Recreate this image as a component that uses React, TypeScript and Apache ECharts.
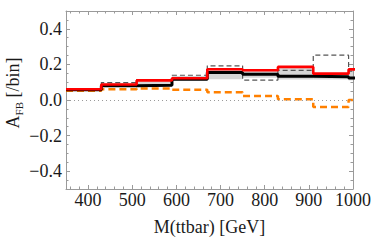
import React, { useEffect, useRef } from "react";
import * as echarts from "echarts";

// bin lower edges [GeV], bins are 80 GeV wide; last one is clipped at 1000
const binStarts = [350, 430, 510, 590, 670, 750, 830, 910, 990];
const binWidth = 80;

const redValues = [0.06, 0.087, 0.11, 0.122, 0.173, 0.167, 0.186, 0.148, 0.172];
const blackValues = [0.057, 0.08, 0.083, 0.117, 0.155, 0.144, 0.133, 0.13, 0.124];
const dashedValues = [0.06, 0.098, 0.115, 0.139, 0.192, 0.112, 0.166, 0.252, 0.162];
const orangeValues = [0.052, 0.061, 0.065, 0.057, 0.043, 0.022, 0.004, -0.04, 0.0];
const bandLow = [0.05, 0.078, 0.08, 0.11, 0.117, 0.125, 0.115, 0.115, 0.11];
const bandHigh = [0.065, 0.095, 0.11, 0.135, 0.172, 0.165, 0.18, 0.15, 0.165];

const xMajorTicks = [400, 500, 600, 700, 800, 900, 1000];
const xMinorTicks = [360, 380, 420, 440, 460, 480, 520, 540, 560, 580, 620, 640, 660, 680, 720, 740, 760, 780, 820, 840, 860, 880, 920, 940, 960, 980];
const yMajorTicks = [-0.4, -0.2, 0, 0.2, 0.4];
const yMinorTicks = [-0.45, -0.35, -0.3, -0.25, -0.15, -0.1, -0.05, 0.05, 0.1, 0.15, 0.25, 0.3, 0.35, 0.45];

const FONT = "'Liberation Serif', 'Times New Roman', serif";
const FRAME = "#9a9a9a";

function steps(vals: number[]) {
  const pts: number[][] = [];
  vals.forEach((v, i) => {
    pts.push([binStarts[i], v]);
    pts.push([binStarts[i] + binWidth, v]);
  });
  return pts;
}

export default function App() {
  const ref = useRef<HTMLDivElement>(null);
  useEffect(() => {
    if (!ref.current) return;
    const chart = echarts.init(ref.current, null, { renderer: "svg" });
    const baseX = { type: "value", min: 350, max: 1000, gridIndex: 0, splitLine: { show: false } };
    const baseY = { type: "value", min: -0.5, max: 0.5, gridIndex: 0, splitLine: { show: false } };
    const lineCol = { lineStyle: { color: FRAME, width: 1 } };
    const fmtY = (v: number) => {
      const s = Math.abs(v).toFixed(1);
      return v < -1e-9 ? "\u2212" + s : s;
    };
    const fmtX = (v: number) => String(Math.round(v));
    chart.setOption({
      animation: false,
      grid: { left: 66, right: 19, top: 11, bottom: 60 },
      xAxis: [
        {
          ...baseX,
          position: "bottom",
          axisLine: { show: true, onZero: false, ...lineCol },
          axisTick: { show: true, inside: true, length: 4, customValues: xMajorTicks, ...lineCol },
          axisLabel: { customValues: xMajorTicks, formatter: fmtX, fontFamily: FONT, fontSize: 18, color: "#1a1a1a", margin: 2 },
          name: "M(ttbar) [GeV]",
          nameLocation: "middle",
          nameGap: 29,
          nameTextStyle: { fontFamily: FONT, fontSize: 18, color: "#1a1a1a" },
        },
        {
          ...baseX,
          position: "bottom",
          axisLine: { show: false, onZero: false },
          axisTick: { show: true, inside: true, length: 2.5, customValues: xMinorTicks, ...lineCol },
          axisLabel: { show: false },
        },
        {
          ...baseX,
          position: "top",
          axisLine: { show: true, onZero: false, ...lineCol },
          axisTick: { show: true, inside: true, length: 4, customValues: xMajorTicks, ...lineCol },
          axisLabel: { show: false },
        },
        {
          ...baseX,
          position: "top",
          axisLine: { show: false, onZero: false },
          axisTick: { show: true, inside: true, length: 2.5, customValues: xMinorTicks, ...lineCol },
          axisLabel: { show: false },
        },
      ],
      yAxis: [
        {
          ...baseY,
          position: "left",
          axisLine: { show: true, onZero: false, ...lineCol },
          axisTick: { show: true, inside: true, length: 4, customValues: yMajorTicks, ...lineCol },
          axisLabel: { customValues: yMajorTicks, formatter: fmtY, fontFamily: FONT, fontSize: 18, color: "#1a1a1a", margin: 4 },
        },
        {
          ...baseY,
          position: "left",
          axisLine: { show: false, onZero: false },
          axisTick: { show: true, inside: true, length: 2.5, customValues: yMinorTicks, ...lineCol },
          axisLabel: { show: false },
        },
        {
          ...baseY,
          position: "right",
          axisLine: { show: true, onZero: false, ...lineCol },
          axisTick: { show: true, inside: true, length: 4, customValues: yMajorTicks, ...lineCol },
          axisLabel: { show: false },
        },
        {
          ...baseY,
          position: "right",
          axisLine: { show: false, onZero: false },
          axisTick: { show: true, inside: true, length: 2.5, customValues: yMinorTicks, ...lineCol },
          axisLabel: { show: false },
        },
      ],
      graphic: [
        {
          type: "text",
          x: 13,
          y: 93,
          rotation: Math.PI / 2,
          style: {
            text: "{a|A}{b|FB}{a| [/bin]}",
            align: "center",
            verticalAlign: "middle",
            fill: "#1a1a1a",
            rich: {
              a: { fontFamily: FONT, fontSize: 18, lineHeight: 22, verticalAlign: "middle", fill: "#1a1a1a" },
              b: { fontFamily: FONT, fontSize: 11, lineHeight: 11, verticalAlign: "bottom", fill: "#1a1a1a" },
            },
          },
        },
      ],
      series: [
        {
          type: "custom",
          xAxisIndex: 0,
          yAxisIndex: 0,
          z: 1,
          data: binStarts.map((s, i) => [s, bandLow[i], bandHigh[i]]),
          renderItem: (params: any, api: any) => {
            const s = api.value(0);
            const p1 = api.coord([s, api.value(2)]);
            const p2 = api.coord([s + binWidth, api.value(1)]);
            const cs = params.coordSys;
            const x2 = Math.min(p2[0], cs.x + cs.width);
            return {
              type: "rect",
              shape: { x: p1[0], y: p1[1], width: x2 - p1[0], height: p2[1] - p1[1] },
              style: { fill: "#d6d6d6" },
            };
          },
        },
        {
          type: "line",
          xAxisIndex: 0,
          yAxisIndex: 0,
          z: 2,
          data: steps(orangeValues),
          showSymbol: false,
          clip: true,
          lineStyle: { color: "#ff8000", width: 2.5, type: [7, 4] },
          markLine: {
            silent: true,
            symbol: "none",
            label: { show: false },
            lineStyle: { type: [1, 3], color: "#9a9a9a", width: 1 },
            data: [{ yAxis: 0 }],
          },
        },
        {
          type: "line",
          xAxisIndex: 0,
          yAxisIndex: 0,
          z: 3,
          data: steps(dashedValues),
          showSymbol: false,
          clip: true,
          lineStyle: { color: "#555555", width: 1.2, type: [5, 3] },
        },
        {
          type: "line",
          xAxisIndex: 0,
          yAxisIndex: 0,
          z: 4,
          data: steps(blackValues),
          showSymbol: false,
          clip: true,
          lineStyle: { color: "#000000", width: 3 },
        },
        {
          type: "line",
          xAxisIndex: 0,
          yAxisIndex: 0,
          z: 5,
          data: steps(redValues),
          showSymbol: false,
          clip: true,
          lineStyle: { color: "#ff0000", width: 2.6 },
        },
      ],
    });
    return () => chart.dispose();
  }, []);
  return <div ref={ref} style={{ width: 374, height: 249, position: "absolute", left: 0, top: 0 }} />;
}
